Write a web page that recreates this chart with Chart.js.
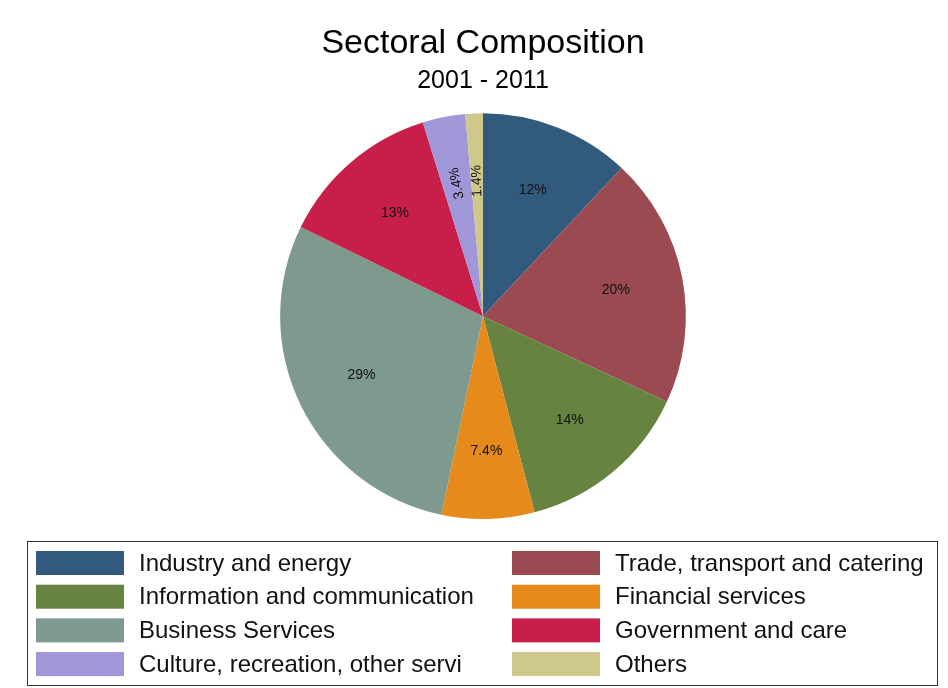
<!DOCTYPE html>
<html>
<head>
<meta charset="utf-8">
<title>Sectoral Composition</title>
<script src="https://cdn.jsdelivr.net/npm/chart.js@4"></script>
<style>
  html, body { margin: 0; padding: 0; background: #fff; }
  #wrap { width: 948px; height: 688px; position: relative; }
</style>
</head>
<body>
<div id="wrap"><canvas id="sectorChart" width="948" height="688"></canvas></div>
<script>
// sector shares, 2001 - 2011 (percent)
const sectors = [
    'Industry and energy',
    'Trade, transport and catering',
    'Information and communication',
    'Financial services',
    'Business Services',
    'Government and care',
    'Culture, recreation, other servi',
    'Others'
];
const shares = [12, 20, 14, 7.4, 29, 13, 3.4, 1.4];
const sectorColors = ['#315a7d', '#9b4a51', '#66843f', '#e68a1c', '#7e998e', '#c81e4a', '#a097d8', '#cec88d'];

const FONT = "'Liberation Sans', Arial, sans-serif";

// percent labels inside the slices; thin slices get their text turned along the radius
const sliceLabels = {
    id: 'sliceLabels',
    afterDatasetsDraw(chart) {
        const ctx = chart.ctx;
        const meta = chart.getDatasetMeta(0);
        ctx.save();
        ctx.font = '14px ' + FONT;
        ctx.fillStyle = '#111';
        ctx.textAlign = 'center';
        ctx.textBaseline = 'middle';
        meta.data.forEach((arc, i) => {
            const p = arc.getProps(['x', 'y', 'startAngle', 'endAngle', 'outerRadius'], true);
            const mid = (p.startAngle + p.endAngle) / 2;
            const r = p.outerRadius * 0.667;
            const x = p.x + Math.cos(mid) * r;
            const y = p.y + Math.sin(mid) * r;
            const txt = shares[i] + '%';
            if (shares[i] < 5) {
                ctx.save();
                ctx.translate(x, y);
                ctx.rotate(mid);
                ctx.fillText(txt, 0, 0);
                ctx.restore();
            } else {
                ctx.fillText(txt, x, y);
            }
        });
        ctx.restore();
    }
};

// boxed two-column legend under the pie
const boxLegend = {
    id: 'boxLegend',
    afterDraw(chart) {
        const ctx = chart.ctx;
        const labels = chart.data.labels;
        const colors = chart.data.datasets[0].backgroundColor;
        ctx.save();
        ctx.strokeStyle = '#333';
        ctx.lineWidth = 1;
        ctx.strokeRect(27.5, 541.5, 910, 144);
        ctx.font = '24px ' + FONT;
        ctx.textBaseline = 'middle';
        ctx.textAlign = 'left';
        const colX = [36, 512];
        labels.forEach((lab, i) => {
            const col = i % 2;
            const row = Math.floor(i / 2);
            const top = 551 + row * 33.7;
            ctx.fillStyle = colors[i];
            ctx.fillRect(colX[col], top, 88, 24);
            ctx.fillStyle = '#111';
            ctx.fillText(lab, colX[col] + 103, top + 13);
        });
        ctx.restore();
    }
};

new Chart(document.getElementById('sectorChart'), {
    type: 'pie',
    data: {
        labels: sectors,
        datasets: [{
            data: shares,
            backgroundColor: sectorColors,
            borderWidth: 0,
            hoverOffset: 0
        }]
    },
    options: {
        responsive: false,
        animation: false,
        layout: { padding: { top: 0, left: 18, right: 0, bottom: 169 } },
        plugins: {
            legend: { display: false },
            tooltip: { enabled: false },
            title: {
                display: true,
                text: 'Sectoral Composition',
                color: '#000',
                font: { family: FONT, size: 34, weight: 'normal' },
                padding: { top: 23, bottom: 0 }
            },
            subtitle: {
                display: true,
                text: '2001 - 2011',
                color: '#000',
                font: { family: FONT, size: 25, weight: 'normal' },
                padding: { top: 2, bottom: 17.5 }
            }
        }
    },
    plugins: [sliceLabels, boxLegend]
});
</script>
</body>
</html>
